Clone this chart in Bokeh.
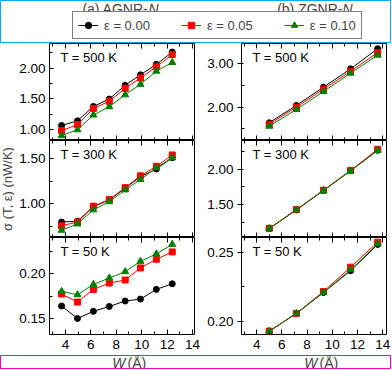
import math
from bokeh.plotting import figure
from bokeh.models import (Range1d, FixedTicker, LinearAxis, Label, Legend, LegendItem,
                          PrintfTickFormatter, ColumnDataSource)
from bokeh.layouts import column, row
from bokeh.embed import file_html
from bokeh.resources import INLINE

FONT = "Liberation Sans"

# ---------------- data ----------------
w_agnr = [3.7, 4.95, 6.2, 7.45, 8.7, 9.9, 11.15, 12.4]
w_zgnr = [5.0, 7.15, 9.3, 11.45, 13.6]

eps_labels = ["ε = 0.00", "ε = 0.05", "ε = 0.10"]
colors = ["#000000", "#ff0000", "#008000"]
markers = ["circle", "square", "triangle"]
msizes = [6, 6, 7]

agnr_500 = [
    [1.065, 1.14, 1.375, 1.495, 1.72, 1.89, 2.06, 2.26],
    [0.98, 1.08, 1.34, 1.46, 1.67, 1.84, 2.02, 2.22],
    [0.90, 0.995, 1.235, 1.37, 1.565, 1.735, 1.95, 2.09],
]
agnr_300 = [
    [0.80, 0.81, 0.97, 1.045, 1.175, 1.30, 1.385, 1.51],
    [0.76, 0.80, 0.975, 1.05, 1.18, 1.31, 1.415, 1.54],
    [0.71, 0.78, 0.935, 1.025, 1.155, 1.27, 1.40, 1.51],
]
agnr_50 = [
    [0.164, 0.150, 0.158, 0.1635, 0.1696, 0.1718, 0.1827, 0.189],
    [0.1775, 0.1684, 0.1827, 0.1898, 0.1932, 0.2068, 0.2165, 0.2248],
    [0.1804, 0.1767, 0.1883, 0.1955, 0.2026, 0.2142, 0.2225, 0.2333],
]
zgnr_500 = [
    [1.64, 2.04, 2.46, 2.885, 3.35],
    [1.605, 2.00, 2.415, 2.83, 3.26],
    [1.56, 1.945, 2.36, 2.785, 3.20],
]
zgnr_300 = [
    [1.157, 1.424, 1.70, 1.98, 2.27],
    [1.16, 1.426, 1.702, 1.983, 2.285],
    [1.157, 1.422, 1.698, 1.978, 2.268],
]
zgnr_50 = [
    [0.193, 0.2058, 0.2209, 0.2366, 0.2556],
    [0.193, 0.2058, 0.2216, 0.2392, 0.2572],
    [0.193, 0.2058, 0.2209, 0.2373, 0.256],
]

x_ticks = [4, 6, 8, 10, 12, 14]
x_minor = [3, 5, 7, 9, 11, 13]

temp_labels = ["T = 500 K", "T = 300 K", "T = 50 K"]

agnr_specs = [
    ((0.82, 2.40), [1.0, 1.5, 2.0], [1.25, 1.75, 2.25]),
    ((0.63, 1.70), [1.0, 1.5], [0.75, 1.25]),
    ((0.132, 0.241), [0.15, 0.20], [0.175, 0.225]),
]
zgnr_specs = [
    ((1.23, 3.47), [2.0, 3.0], [1.5, 2.5]),
    ((1.03, 2.41), [1.5, 2.0], [1.25, 1.75, 2.25]),
    ((0.1906, 0.2606), [0.20, 0.25], [0.225]),
]

FW, FH = 145, 97
YSTRIP = 14
L_LB, L_RB = 35, 9
R_LB, R_RB = 38, 5
BOT = 21
HEAD_H = 43
XS_H = 14
TOTAL_W = YSTRIP + L_LB + FW + L_RB + R_LB + FW + R_RB  # 391
LEFT_F0 = YSTRIP + L_LB            # 49
RIGHT_F0 = LEFT_F0 + FW + L_RB + R_LB  # 241


def blank(w, h):
    f = figure(width=w, height=h, x_range=Range1d(0, 1), y_range=Range1d(0, 1),
               output_backend="svg", toolbar_location=None,
               min_border_left=0, min_border_right=0, min_border_top=0, min_border_bottom=0,
               x_axis_location=None, y_axis_location=None, title=None)
    f.grid.visible = False
    f.outline_line_color = None
    return f


def make_panel(ws, series, xr, spec, tlabel, col, bottom):
    yr, yt, ym = spec
    lb = L_LB if col == 0 else R_LB
    rb = L_RB if col == 0 else R_RB
    bb = BOT if bottom else 0
    p = figure(frame_width=FW, frame_height=FH, x_range=Range1d(*xr), y_range=Range1d(*yr),
               output_backend="svg", toolbar_location=None,
               min_border_left=lb, min_border_right=rb, min_border_top=0, min_border_bottom=bb,
               x_axis_location=None, y_axis_location=None)
    p.grid.visible = False
    p.outline_line_color = "black"
    p.outline_line_width = 1
    p.outline_line_alpha = 1

    yax = LinearAxis(ticker=FixedTicker(ticks=yt, minor_ticks=ym),
                     formatter=PrintfTickFormatter(format="%.2f"),
                     major_label_text_font=FONT, major_label_text_font_size="13.5px",
                     major_label_text_color="black",
                     major_tick_in=4 if col == 0 else 2, major_tick_out=0 if col == 0 else 4,
                     minor_tick_in=3, minor_tick_out=0,
                     major_label_standoff=4,
                     axis_line_color=None, major_tick_line_color="black",
                     minor_tick_line_color="black")
    p.add_layout(yax, "left")

    xb = LinearAxis(ticker=FixedTicker(ticks=x_ticks, minor_ticks=x_minor),
                    major_label_text_font=FONT, major_label_text_font_size="13.5px",
                    major_label_text_color="black" if bottom else None,
                    major_tick_in=5, major_tick_out=0, minor_tick_in=3, minor_tick_out=0,
                    major_label_standoff=5, axis_line_color=None,
                    major_tick_line_color="black", minor_tick_line_color="black")
    p.add_layout(xb, "below")
    xt = LinearAxis(ticker=FixedTicker(ticks=x_ticks, minor_ticks=x_minor),
                    major_label_text_color=None,
                    major_tick_in=5, major_tick_out=0, minor_tick_in=3, minor_tick_out=0,
                    major_label_standoff=0, axis_line_color=None,
                    major_tick_line_color="black", minor_tick_line_color="black")
    p.add_layout(xt, "above")

    for ys, c, m, s in zip(series, colors, markers, msizes):
        src = ColumnDataSource(data=dict(x=ws, y=ys))
        p.line("x", "y", source=src, line_color=c, line_width=1)
        p.scatter("x", "y", source=src, marker=m, size=s, fill_color=c, line_color=c)

    p.add_layout(Label(x=11, y=FH - 14, x_units="screen", y_units="screen", text=tlabel,
                       text_font=FONT, text_font_size="13px", text_baseline="middle",
                       text_color="black"))
    return p


agnr_data = [agnr_500, agnr_300, agnr_50]
zgnr_data = [zgnr_500, zgnr_300, zgnr_50]

left = [make_panel(w_agnr, agnr_data[i], (2.75, 14.15), agnr_specs[i], temp_labels[i], 0, i == 2)
        for i in range(3)]
right = [make_panel(w_zgnr, zgnr_data[i], (2.8, 14.3), zgnr_specs[i], temp_labels[i], 1, i == 2)
         for i in range(3)]

# ---------------- header (titles + legend) ----------------
h = blank(TOTAL_W, HEAD_H)
h.outline_line_color = "#00aaff"   # diagnostic

items = []
for i, (lab, c, m, s) in enumerate(zip(eps_labels, colors, markers, msizes)):
    src = ColumnDataSource(data=dict(x=[w_agnr[0]], y=[agnr_500[i][0]]))
    rl = h.line("x", "y", source=src, line_color=c, line_width=1)
    rs = h.scatter("x", "y", source=src, marker=m, size=s, fill_color=c, line_color=c)
    items.append(LegendItem(label=lab, renderers=[rl, rs]))

leg = Legend(items=items, location=(72, 4), orientation="horizontal",
             label_text_font=FONT, label_text_font_size="13px",
             glyph_width=20, glyph_height=16, label_height=16, label_standoff=6,
             spacing=31, padding=5, margin=0,
             border_line_color="black", border_line_width=1,
             background_fill_color="white", background_fill_alpha=1)
h.add_layout(leg)

for txt, xend in [("(a) AGNR-", 148), ("(b) ZGNR-", 342)]:
    h.add_layout(Label(x=xend, y=HEAD_H - 8, x_units="screen", y_units="screen", text=txt,
                       text_font=FONT, text_font_size="14px", text_align="right",
                       text_baseline="middle"))
    h.add_layout(Label(x=xend, y=HEAD_H - 8, x_units="screen", y_units="screen", text="N",
                       text_font=FONT, text_font_size="14px", text_font_style="italic",
                       text_align="left", text_baseline="middle"))

ystrip = blank(YSTRIP, 3 * FH + BOT)
ystrip.add_layout(Label(x=7, y=BOT + 1.5 * FH, x_units="screen", y_units="screen",
                        text="σ (T, ε) (nW/K)", angle=math.pi / 2,
                        text_font=FONT, text_font_size="13px",
                        text_align="center", text_baseline="middle"))

xstrip = blank(TOTAL_W, XS_H)
xstrip.outline_line_color = "#ff00aa"  # diagnostic
for f0 in (LEFT_F0, RIGHT_F0):
    xstrip.add_layout(Label(x=f0 + 76, y=XS_H / 2, x_units="screen", y_units="screen", text="W",
                            text_font=FONT, text_font_size="14px", text_font_style="italic",
                            text_align="right", text_baseline="middle"))
    xstrip.add_layout(Label(x=f0 + 78, y=XS_H / 2, x_units="screen", y_units="screen", text="(Å)",
                            text_font=FONT, text_font_size="14px",
                            text_align="left", text_baseline="middle"))

layout = column(h, row(ystrip, column(*left), column(*right)), xstrip)

open("out.html", "w").write(file_html(layout, INLINE))
